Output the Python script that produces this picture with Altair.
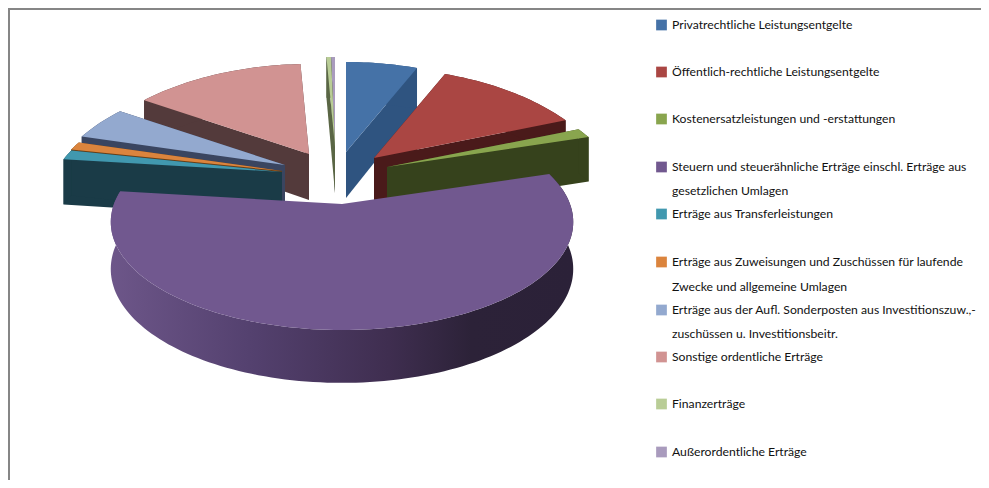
import math
import altair as alt

# --- data (share of the whole pie, in %) ---
categories = [
    "Privatrechtliche Leistungsentgelte",
    "Öffentlich-rechtliche Leistungsentgelte",
    "Kostenersatzleistungen und -erstattungen",
    "Steuern und steuerähnliche Erträge einschl. Erträge aus gesetzlichen Umlagen",
    "Erträge aus Transferleistungen",
    "Erträge aus Zuweisungen und Zuschüssen für laufende Zwecke und allgemeine Umlagen",
    "Erträge aus der Aufl. Sonderposten aus Investitionszuw.,-zuschüssen u. Investitionsbeitr.",
    "Sonstige ordentliche Erträge",
    "Finanzerträge",
    "Außerordentliche Erträge",
]
shares = [6.3, 12.5, 1.4, 56.9, 1.4, 1.2, 4.9, 14.8, 0.4, 0.35]

# legend text lines, one list per category
legend_lines = [
    ["Privatrechtliche Leistungsentgelte"],
    ["Öffentlich-rechtliche Leistungsentgelte"],
    ["Kostenersatzleistungen und -erstattungen"],
    ["Steuern und steuerähnliche Erträge einschl. Erträge aus", "gesetzlichen Umlagen"],
    ["Erträge aus Transferleistungen"],
    ["Erträge aus Zuweisungen und Zuschüssen für laufende", "Zwecke und allgemeine Umlagen"],
    ["Erträge aus der Aufl. Sonderposten aus Investitionszuw.,-", "zuschüssen u. Investitionsbeitr."],
    ["Sonstige ordentliche Erträge"],
    ["Finanzerträge"],
    ["Außerordentliche Erträge"],
]

# --- style ---
top_colors = ["#4572a7", "#aa4643", "#89a54e", "#71588f", "#4198af",
              "#db843d", "#93a9cf", "#d19392", "#b9cd96", "#a99bbd"]
side_colors = ["#2f5480", "#4a1a1a", "#36421c", "#3c2d50", "#1a3b47",
               "#6b3f14", "#3a4560", "#533a3b", "#5a6645", "#4e4560"]
# exploded slice tips, offset from the pie centre (337, 165) on the page
explode = [(9, -13), (37, -7), (50, 2), (5, 39), (-55, 7),
           (-55, 6), (-52, 0), (-28, -11), (-2, -18), (-2, -18)]
draw_order = [9, 8, 7, 6, 5, 4, 0, 1, 2]
legend_y = [[25], [72], [119], [167, 191], [214], [262, 287], [310, 334], [357], [404], [452]]

W, H = 973, 472
MARGIN = 8
CX, CY = 337, 165
A, B, K, KX = 227.0, 105.0, 1 / 6, 0.25
A_BIG = 228.0
DEPTH, DK = 46.0, 0.13
PURPLE = 3

total = sum(shares)
edges = [0.0]
for s in shares:
    edges.append(edges[-1] + 360.0 * s / total)


def project(i, deg, r=1.0, down=False):
    t = math.radians(deg)
    X, Y = r * math.sin(t), r * math.cos(t)
    q = 1 + K * Y
    if i == PURPLE:
        x = CX + explode[i][0] + A_BIG * X / q - MARGIN
    else:
        x = CX + explode[i][0] + A * X / (1 + KX * Y) - MARGIN
    y = CY + explode[i][1] - B * Y / q - MARGIN
    if down:
        y += DEPTH / (1 + DK * Y)
    return [x, y]


def arc(i, a, b, down=False):
    n = max(2, int(abs(b - a) / 1.5) + 1)
    return [project(i, a + (b - a) * j / n, 1.0, down) for j in range(n + 1)]


def poly(points, color):
    return {"type": "Feature",
            "geometry": {"type": "Polygon", "coordinates": [points + [points[0]]]},
            "properties": {"color": color}}


def top_face(i):
    return poly([project(i, 0, 0.0)] + arc(i, edges[i], edges[i + 1]), top_colors[i])


def rim_points(i):
    return arc(i, edges[i], edges[i + 1]) + arc(i, edges[i + 1], edges[i], True)


def cut_face(i, deg):
    return poly([project(i, deg, 0.0), project(i, deg),
                 project(i, deg, 1.0, True), project(i, deg, 0.0, True)], side_colors[i])


features = []
for i in draw_order:
    features.append(cut_face(i, edges[i]))
    features.append(cut_face(i, edges[i + 1]))
    features.append(poly(rim_points(i), side_colors[i]))
    features.append(top_face(i))

slices = alt.Chart(alt.Data(values=features)).mark_geoshape(strokeWidth=0).encode(
    color=alt.Color("properties.color:N", scale=None)
)

rim_gradient = alt.Gradient(
    gradient="linear", x1=0, x2=1, y1=0, y2=0,
    stops=[alt.GradientStop(offset=0, color="#6d5689"),
           alt.GradientStop(offset=0.3, color="#54416f"),
           alt.GradientStop(offset=0.6, color="#3f2e50"),
           alt.GradientStop(offset=0.78, color="#2c2238"),
           alt.GradientStop(offset=1, color="#2b2138")],
)
purple_rim = alt.Chart(alt.Data(values=[poly(rim_points(PURPLE), "rim")])).mark_geoshape(
    fill=rim_gradient, strokeWidth=0)
purple_top = alt.Chart(alt.Data(values=[top_face(PURPLE)])).mark_geoshape(
    fill=top_colors[PURPLE], strokeWidth=0)

frame = alt.Chart(alt.Data(values=[{
    "type": "Feature", "properties": {},
    "geometry": {"type": "LineString", "coordinates": [[0.5, H], [0.5, 0.5], [W, 0.5]]},
}])).mark_geoshape(filled=False, stroke="#868686", strokeWidth=3)

square_rows = [{"lon": 661.5 - MARGIN, "lat": ys[0] - MARGIN, "c": top_colors[i]}
               for i, ys in enumerate(legend_y)]
text_rows = [{"lon": 672 - MARGIN, "lat": y - MARGIN, "t": line}
             for lines, ys in zip(legend_lines, legend_y) for line, y in zip(lines, ys)]

squares = alt.Chart(alt.Data(values=square_rows)).mark_square(size=115, opacity=1).encode(
    longitude="lon:Q", latitude="lat:Q", color=alt.Color("c:N", scale=None)
)
texts = alt.Chart(alt.Data(values=text_rows)).mark_text(
    align="left", baseline="middle", font="Lato", fontSize=12.2, color="#111111"
).encode(longitude="lon:Q", latitude="lat:Q", text="t:N")

chart = alt.layer(frame, slices, purple_rim, purple_top, squares, texts).project(
    type="identity", scale=1, translate=[0, 0]
).properties(
    width=W, height=H, padding=0, autosize=alt.AutoSizeParams(type="none")
).configure_view(stroke=None)

chart.save("out.html", embed_options={"renderer": "svg", "actions": False})
